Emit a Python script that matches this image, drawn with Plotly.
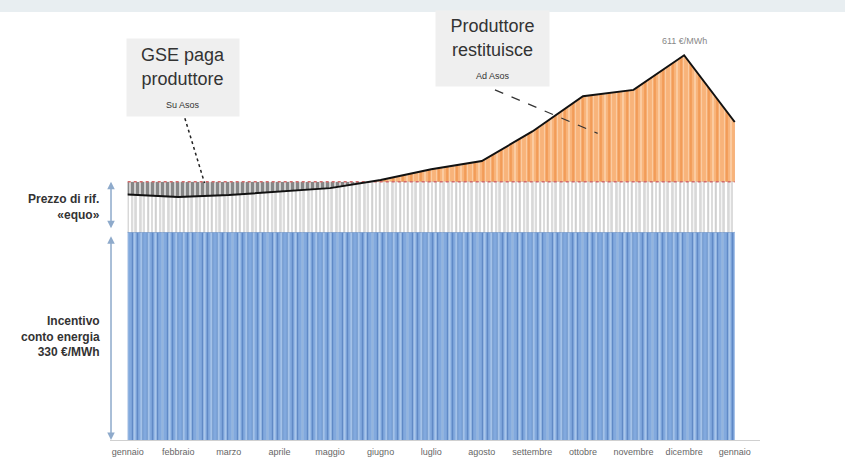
import plotly.graph_objects as go

# ---- data ----
months = ['gennaio', 'febbraio', 'marzo', 'aprile', 'maggio', 'giugno', 'luglio',
          'agosto', 'settembre', 'ottobre', 'novembre', 'dicembre', 'gennaio']
price = [390, 386, 389, 395, 400, 413, 430, 443, 490, 546, 556, 611, 505]  # €/MWh (incentivo + prezzo)
INCENTIVO = 330      # incentivo conto energia
REF_LEVEL = 410      # incentivo + prezzo di riferimento «equo»
PEAK_LABEL = '611 €/MWh'

x = list(range(len(months)))
YMAX = 640
FONT = 'Liberation Sans, Arial, sans-serif'
NARROW = 'Liberation Sans Narrow, Arial Narrow, Liberation Sans, Arial, sans-serif'
CLEAR = 'rgba(0,0,0,0)'

fig = go.Figure()

def band(xs, ys, bg, fg, size, sol, yaxis='y', fillcolor=None):
    fig.add_trace(go.Scatter(
        x=xs, y=ys, mode='lines', fill='toself', yaxis=yaxis,
        line=dict(width=0), hoverinfo='skip', showlegend=False,
        fillcolor=fillcolor if fillcolor else bg,
        fillpattern=dict(shape='|', bgcolor=bg, fgcolor=fg, size=size, solidity=sol)))

x0, x1 = x[0], x[-1]
# blue band: incentivo
band([x0, x1, x1, x0], [0, 0, INCENTIVO, INCENTIVO], '#82a9de', '#3d6aae', 5, 0.3)
band([x0, x1, x1, x0], [0, 0, INCENTIVO, INCENTIVO], CLEAR, 'rgba(222,238,252,0.85)', 7, 0.3,
     fillcolor=CLEAR)
fig.add_trace(go.Scatter(x=[x0, x1], y=[INCENTIVO, INCENTIVO], mode='lines',
                         line=dict(color='#4a7abb', width=1), hoverinfo='skip', showlegend=False))
# grey band: prezzo di riferimento
band([x0, x1, x1, x0], [INCENTIVO, INCENTIVO, REF_LEVEL, REF_LEVEL], '#ffffff', '#8a8a8a', 4, 0.3)
band([x0, x1, x1, x0], [INCENTIVO, INCENTIVO, REF_LEVEL, REF_LEVEL], CLEAR, '#c4c4c4', 7, 0.25,
     fillcolor=CLEAR)
# dark region (GSE paga) - clipped to the grey band via y3
band(x + x[::-1], price + [REF_LEVEL] * len(x), '#d0d0d0', '#3c3c3c', 5, 0.6, yaxis='y3')
# orange region (produttore restituisce) - clipped above reference via y2
band(x + x[::-1], price + [INCENTIVO] * len(x), '#f8b37a', '#fde4c8', 6, 0.35, yaxis='y2')
band(x + x[::-1], price + [INCENTIVO] * len(x), CLEAR, '#ec8434', 9, 0.3, yaxis='y2',
     fillcolor=CLEAR)
# reference line and price line on top
fig.add_trace(go.Scatter(x=[x0, x1], y=[REF_LEVEL, REF_LEVEL], mode='lines', yaxis='y4',
                         line=dict(color='#d46a6a', width=1.5, dash='dot'),
                         hoverinfo='skip', showlegend=False))
fig.add_trace(go.Scatter(x=x, y=price, mode='lines', yaxis='y4',
                         line=dict(color='#111111', width=2),
                         hoverinfo='skip', showlegend=False))

ann = []
# left labels
ann.append(dict(x=-0.012, y=(INCENTIVO + REF_LEVEL) / 2, xref='paper', yref='y', xanchor='right',
                yanchor='middle', text='<b>Prezzo di rif.<br>«equo»</b>', showarrow=False, align='right',
                font=dict(family=NARROW, size=12, color='#333333')))
ann.append(dict(x=-0.012, y=INCENTIVO / 2, xref='paper', yref='y', xanchor='right', yanchor='middle',
                text='<b>Incentivo<br>conto energia<br>330 €/MWh</b>', showarrow=False, align='right',
                font=dict(family=NARROW, size=12, color='#333333')))
# left arrows
for (yh, yt) in [(REF_LEVEL, INCENTIVO + 4), (0, INCENTIVO - 4)]:
    ann.append(dict(x=-0.33, y=yh, ax=-0.33, ay=yt, xref='x', yref='y', axref='x', ayref='y',
                    text='', showarrow=True, arrowside='end+start', arrowhead=2, arrowsize=1,
                    arrowwidth=1.5, arrowcolor='#8eaacb'))
# callout boxes
ann.append(dict(x=1.09, y=575, xref='x', yref='y', xanchor='center', yanchor='middle',
                text="GSE paga<br>produttore<br><span style='font-size:9px'>Su Asos</span>",
                showarrow=False, bgcolor='#efefef', width=110, height=75,
                font=dict(family=FONT, size=18, color='#333333')))
ann.append(dict(x=7.21, y=621, xref='x', yref='y', xanchor='center', yanchor='middle',
                text="Produttore<br>restituisce<br><span style='font-size:9px'>Ad Asos</span>",
                showarrow=False, bgcolor='#efefef', width=111, height=73,
                font=dict(family=FONT, size=18, color='#333333')))
ann.append(dict(x=11, y=price[11], xref='x', yref='y', xanchor='center', yanchor='bottom', yshift=7,
                text=PEAK_LABEL, showarrow=False,
                font=dict(family=NARROW, size=9, color='#888888')))

shapes = [
    dict(type='rect', xref='paper', yref='paper', x0=-0.2, x1=1.2, y0=1.062, y1=1.2,
         fillcolor='#e8eef1', line=dict(width=0), layer='below'),
    dict(type='line', xref='x', yref='y', x0=1.13, y0=511, x1=1.52, y1=408,
         line=dict(color='#222222', width=1.5, dash='dot')),
    dict(type='line', xref='x', yref='y', x0=7.26, y0=556, x1=9.29, y1=487,
         line=dict(color='#333333', width=1.2, dash='dash')),
]

fig.update_layout(
    width=845, height=459,
    margin=dict(l=110, r=85, t=37, b=19),
    paper_bgcolor='white', plot_bgcolor=CLEAR,
    showlegend=False,
    annotations=ann, shapes=shapes,
    xaxis=dict(range=[-0.35, 12.5], tickvals=x, ticktext=months, showgrid=False, zeroline=False,
               showline=True, linecolor='#d0d0d0', ticks='outside', ticklen=3, tickcolor=CLEAR,
               automargin=False,
               tickfont=dict(family=NARROW, size=9, color='#666666')),
    yaxis=dict(range=[0, YMAX], domain=[0, 1], visible=False, showgrid=False, zeroline=False,
               automargin=False),
    yaxis2=dict(range=[REF_LEVEL, YMAX], domain=[REF_LEVEL / YMAX, 1], anchor='x', visible=False,
                automargin=False),
    yaxis3=dict(range=[INCENTIVO, REF_LEVEL], domain=[INCENTIVO / YMAX, REF_LEVEL / YMAX],
                anchor='x', visible=False, automargin=False),
    yaxis4=dict(range=[0, YMAX], domain=[0, 1], anchor='x', visible=False, automargin=False),
)

fig.write_html('out.html', config={'displayModeBar': False},
               post_script="document.body.style.margin='0';")
